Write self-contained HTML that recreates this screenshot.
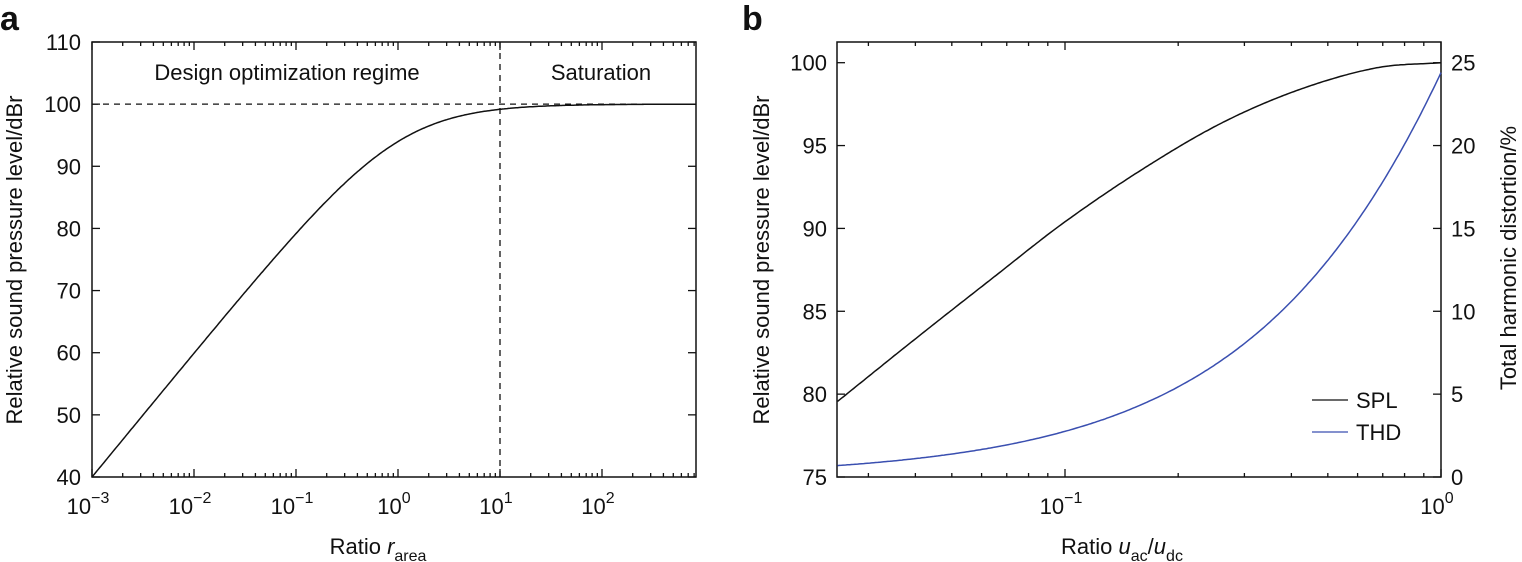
<!DOCTYPE html>
<html><head><meta charset="utf-8"><style>
html,body{margin:0;padding:0;background:#fff;width:1522px;height:562px;overflow:hidden}
svg{display:block}
text{font-family:"Liberation Sans",sans-serif;fill:#111}
.t{font-size:22px}
.ax{font-family:"Liberation Sans",sans-serif;font-size:22px}
</style></head><body>
<svg id="s" width="1522" height="562" xmlns="http://www.w3.org/2000/svg">
<text x="0" y="30" style="font-family:'Liberation Sans',sans-serif;font-weight:bold;font-size:34px">a</text>
<text x="742" y="30" style="font-family:'Liberation Sans',sans-serif;font-weight:bold;font-size:34px">b</text>
</svg>
<script>
var s=document.getElementById('s'),h='';
function L(x1,y1,x2,y2,st){h+='<line x1="'+x1+'" y1="'+y1+'" x2="'+x2+'" y2="'+y2+'" stroke="'+(st||'#111')+'" stroke-width="1.3"/>';}
function T(x,y,t,a,c){h+='<text x="'+x+'" y="'+y+'" text-anchor="'+(a||'middle')+'" class="'+(c||'t')+'">'+t+'</text>';}
// Panel a
var ax0=92,ax1=696,ay0=42,ay1=477,dec=102;
function axX(lr){return ax0+(lr+3)*dec;}
function ayY(v){return ay1-(v-40)*(ay1-ay0)/70;}
h+='<rect x="'+ax0+'" y="'+ay0+'" width="'+(ax1-ax0)+'" height="'+(ay1-ay0)+'" fill="none" stroke="#111" stroke-width="1.5"/>';
for(var d=-3;d<=2;d++){for(var m=1;m<=9;m++){var x=axX(d+Math.log10(m));if(x>ax1)break;var len=m==1?8:4;L(x,ay1,x,ay1-len);L(x,ay0,x,ay0+len);}
 T(axX(d)-4,514,'10<tspan dy="-11" font-size="16">'+(d<0?'\u2212'+(-d):d)+'</tspan>');}
for(var v=40;v<=110;v+=10){var y=ayY(v);L(ax0,y,ax0+8,y);L(ax1,y,ax1-8,y);T(81,y+8,v,'end');}
var p='';for(var i=0;i<=400;i++){var lr=-3+i*(Math.log10(830)+3)/400,r=Math.pow(10,lr);var v=100+20*Math.log10(r/(1+r));p+=(i?'L':'M')+axX(lr).toFixed(1)+','+ayY(v).toFixed(1);}
h+='<path d="'+p+'" fill="none" stroke="#111" stroke-width="1.5"/>';
h+='<line x1="'+ax0+'" y1="'+ayY(100)+'" x2="'+ax1+'" y2="'+ayY(100)+'" stroke="#111" stroke-width="1.3" stroke-dasharray="6,5"/>';
h+='<line x1="'+axX(1)+'" y1="'+ay0+'" x2="'+axX(1)+'" y2="'+ay1+'" stroke="#111" stroke-width="1.3" stroke-dasharray="6,5"/>';
T(287,80,'Design optimization regime');T(601,80,'Saturation');
T(378,554,'Ratio <tspan font-style="italic">r</tspan><tspan dy="7" font-size="16">area</tspan>');
h+='<text class="ax" transform="translate(22,260) rotate(-90)" text-anchor="middle">Relative sound pressure level/dBr</text>';
// Panel b
var bx0=837,bx1=1441,by0=42,by1=477,bdec=376;
function bX(lr){return bx1+lr*bdec;}
function bY(v){return by1-(v-75)*(by1-62.7)/25;}
h+='<rect x="'+bx0+'" y="'+by0+'" width="'+(bx1-bx0)+'" height="'+(by1-by0)+'" fill="none" stroke="#111" stroke-width="1.5"/>';
for(var d=-2;d<=0;d++){for(var m=1;m<=9;m++){var x=bX(d+Math.log10(m));if(x<bx0||x>bx1+0.5)continue;var len=m==1?8:4;L(x,by1,x,by1-len);L(x,by0,x,by0+len);}}
T(bX(-1)-4,514,'10<tspan dy="-11" font-size="16">\u22121</tspan>');T(bX(0)-4,514,'10<tspan dy="-11" font-size="16">0</tspan>');
for(var v=75;v<=100;v+=5){var y=bY(v);L(bx0,y,bx0+8,y);L(bx1,y,bx1-8,y);T(827,y+8,v,'end');T(1451,y+8,v-75,'start');}
function interp(pts){var o='';for(var i=0;i<=300;i++){var lr=-1.605+i*1.605/300;var k=0;while(k<pts.length-2&&lr>pts[k+1][0])k++;
 var p0=pts[Math.max(k-1,0)],p1=pts[k],p2=pts[k+1],p3=pts[Math.min(k+2,pts.length-1)];var t=(lr-p1[0])/(p2[0]-p1[0]);
 var m1=(p2[1]-p0[1])/(p2[0]-p0[0]),m2=(p3[1]-p1[1])/(p3[0]-p1[0]),dx=p2[0]-p1[0];
 var t2=t*t,t3=t2*t;var v=(2*t3-3*t2+1)*p1[1]+(t3-2*t2+t)*dx*m1+(-2*t3+3*t2)*p2[1]+(t3-t2)*dx*m2;
 o+=(i?'L':'M')+bX(lr).toFixed(1)+','+bY(v).toFixed(1);}return o;}
var spl=[[-1.605,79.56],[-1.40,83.3],[-1.195,86.96],[-1.0,90.4],[-0.785,93.7],[-0.58,96.4],[-0.374,98.4],[-0.169,99.7],[0,100]];
h+='<path d="'+interp(spl)+'" fill="none" stroke="#111" stroke-width="1.5"/>';
var q='';for(var i=0;i<=300;i++){var lr=-1.605+i*1.605/300,u=Math.pow(10,lr);var th=27.9*u-3.5*u*u;q+=(i?'L':'M')+bX(lr).toFixed(1)+','+bY(75+th).toFixed(1);}
h+='<path d="'+q+'" fill="none" stroke="#3a4fb0" stroke-width="1.5"/>';
L(1312,400,1348,400);T(1356,408,'SPL','start');
L(1312,432,1348,432,'#3a4fb0');T(1356,440,'THD','start');
T(1122,554,'Ratio <tspan font-style="italic">u</tspan><tspan dy="7" font-size="16">ac</tspan><tspan dy="-7">/</tspan><tspan font-style="italic">u</tspan><tspan dy="7" font-size="16">dc</tspan>');
h+='<text class="ax" transform="translate(769,260) rotate(-90)" text-anchor="middle">Relative sound pressure level/dBr</text>';
h+='<text class="ax" transform="translate(1516,258) rotate(-90)" text-anchor="middle">Total harmonic distortion/%</text>';
s.insertAdjacentHTML('beforeend',h);
</script>
</body></html>
